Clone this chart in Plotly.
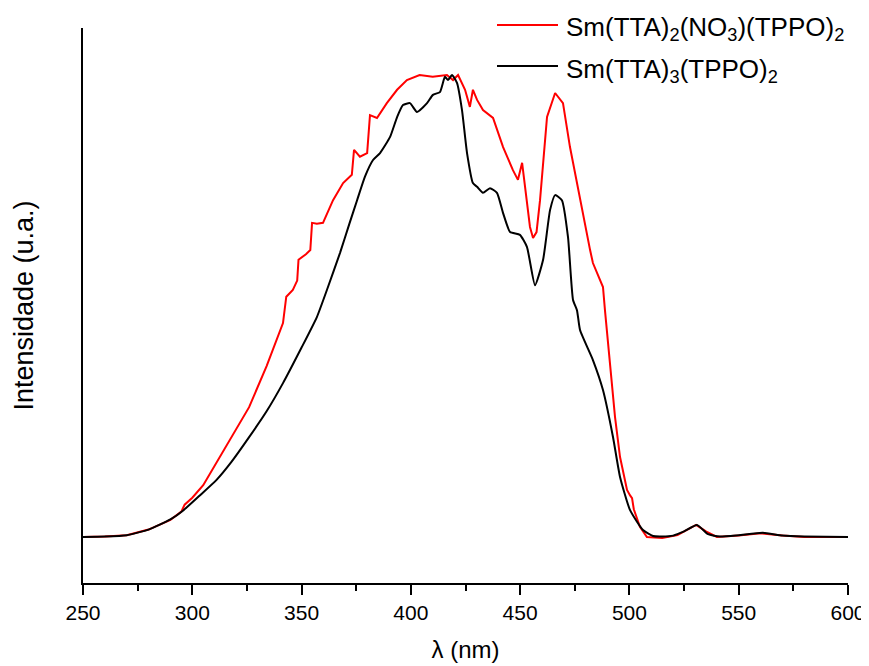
import plotly.graph_objects as go

# Wavelength (nm) and normalized intensity
red_x = [250, 260, 270, 280, 290, 295, 296.5, 300, 305, 311, 318, 326, 334, 338, 341.5, 343, 346, 348, 348.6,
         352, 354, 354.8, 357, 359.8, 364.4, 369, 373, 374, 376.7, 380, 381.3, 384.5, 389, 393.7, 398.2,
         404, 410, 416.5, 419.3, 421.6, 424.8, 427, 428.4, 430.3, 433, 437.6, 442.2, 446.7, 449, 450.9,
         452.2, 454.5, 455.9, 457.5, 459.1, 462.3, 466, 469.6, 472.8, 477.4, 482, 483.3, 486.5, 487.9,
         488.8, 491.1, 493.4, 495.7, 498.9, 500.3, 501.2, 502, 504.8, 508, 515, 522, 526, 530.5, 535, 540,
         550, 560, 570, 580, 600]
red_y = [0.0, 0.001, 0.004, 0.016, 0.037, 0.055, 0.07, 0.085, 0.112, 0.16, 0.215, 0.281, 0.37, 0.42, 0.463,
         0.52, 0.535, 0.555, 0.60, 0.612, 0.621, 0.68, 0.678, 0.68, 0.729, 0.766, 0.784, 0.838, 0.823, 0.831,
         0.913, 0.907, 0.939, 0.968, 0.989, 1.0, 0.996, 1.0, 0.989, 1.0, 0.968, 0.931, 0.968, 0.946, 0.924,
         0.907, 0.844, 0.794, 0.773, 0.81, 0.758, 0.671, 0.647, 0.66, 0.729, 0.909, 0.961, 0.939, 0.844,
         0.729, 0.621, 0.593, 0.556, 0.541, 0.491, 0.368, 0.26, 0.173, 0.102, 0.09, 0.084, 0.06, 0.022,
         0.0, -0.002, 0.004, 0.015, 0.026, 0.012, 0.0, 0.003, 0.008, 0.003, 0.0, 0.0]

black_x = [250, 260, 270, 280, 290, 296, 303, 311, 318, 326, 334, 341.5, 350, 357, 362, 367.6, 372, 375.4,
           379, 382.7, 385.9, 390.5, 393.7, 396.4, 399.6, 402.8, 407.4, 410.1, 413.3, 415.6, 417, 418.8,
           421.1, 423.4, 425.7, 428.4, 430.3, 433, 436.2, 439.4, 442.2, 445.4, 449.9, 453.1, 456.8, 460.5,
           463.7, 466, 469.1, 471.9, 474.2, 476, 477.4, 483.3, 487.9, 492.5, 495.7, 500.3, 506.2, 510.8,
           515, 520, 525, 530.9, 536, 541.4, 550, 561, 570, 580, 600]
black_y = [0.0, 0.001, 0.004, 0.016, 0.038, 0.058, 0.088, 0.123, 0.163, 0.216, 0.272, 0.333, 0.41, 0.476,
           0.54, 0.615, 0.68, 0.729, 0.78, 0.816, 0.831, 0.866, 0.909, 0.935, 0.939, 0.92, 0.939, 0.957,
           0.963, 0.996, 0.989, 1.0, 0.983, 0.924, 0.831, 0.766, 0.758, 0.745, 0.755, 0.745, 0.701, 0.66,
           0.654, 0.628, 0.545, 0.6, 0.708, 0.74, 0.729, 0.649, 0.513, 0.491, 0.448, 0.383, 0.318, 0.216,
           0.13, 0.058, 0.015, 0.002, 0.001, 0.003, 0.012, 0.026, 0.006, 0.001, 0.004, 0.009, 0.003, 0.001, 0.0]

x_ticks = [250, 300, 350, 400, 450, 500, 550, 600]

series_names = ["Sm(TTA)<sub>2</sub>(NO<sub>3</sub>)(TPPO)<sub>2</sub>",
                "Sm(TTA)<sub>3</sub>(TPPO)<sub>2</sub>"]
series_colors = ["#ff0000", "#000000"]

fig = go.Figure()
fig.add_trace(go.Scatter(x=red_x, y=red_y, mode="lines", name=series_names[0], showlegend=False,
                         line=dict(color=series_colors[0], width=2)))
fig.add_trace(go.Scatter(x=black_x, y=black_y, mode="lines", name=series_names[1], showlegend=False,
                         line=dict(color=series_colors[1], width=2, shape="spline", smoothing=0.5)))

# The page adds an 8px body margin, so the figure is laid out 8px up/left.
OFF = 8
W, H = 869, 666
L, T = 83 - OFF, 28 - OFF
pw, ph = 765, 555
R, B = W - L - pw, H - T - ph

def px_x(p):  # page pixel -> paper x
    return (p - OFF - L) / pw

def px_y(p):  # page pixel -> paper y
    return (H - B - (p - OFF)) / ph

# Legend drawn manually (line sample + label)
legend_rows_y = [25, 66]
for name, color, ry in zip(series_names, series_colors, legend_rows_y):
    fig.add_shape(type="line", xref="paper", yref="paper",
                  x0=px_x(497), x1=px_x(558), y0=px_y(ry), y1=px_y(ry),
                  line=dict(color=color, width=2))
    fig.add_annotation(xref="paper", yref="paper", x=px_x(564), y=px_y(ry + 4),
                       xanchor="left", yanchor="middle", text=name, showarrow=False,
                       font=dict(size=26, color="black"))

fig.update_layout(
    width=W, height=H,
    margin=dict(l=L, r=R, t=T, b=B, autoexpand=False),
    plot_bgcolor="white", paper_bgcolor="white",
    font=dict(family="Arial, Liberation Sans, sans-serif", color="black", size=21),
    showlegend=False,
    xaxis=dict(range=[250, 600], tickvals=x_ticks, ticktext=[str(v) for v in x_ticks],
               showline=True, linecolor="black", linewidth=2, mirror=False,
               ticks="outside", ticklen=10, tickwidth=2, tickcolor="black",
               minor=dict(ticks="outside", ticklen=6, tickwidth=2, tickcolor="black", dtick=25, showgrid=False),
               showgrid=False, zeroline=False, automargin=False,
               title=dict(text="λ (nm)", font=dict(size=24), standoff=18),
               tickfont=dict(size=21)),
    yaxis=dict(range=[-0.0996, 1.1017], showline=True, linecolor="black", linewidth=2,
               showticklabels=False, ticks="", showgrid=False, zeroline=False, automargin=False,
               title=dict(text="Intensidade (u.a.)", font=dict(size=27), standoff=40)),
)

fig.write_html("out.html")
